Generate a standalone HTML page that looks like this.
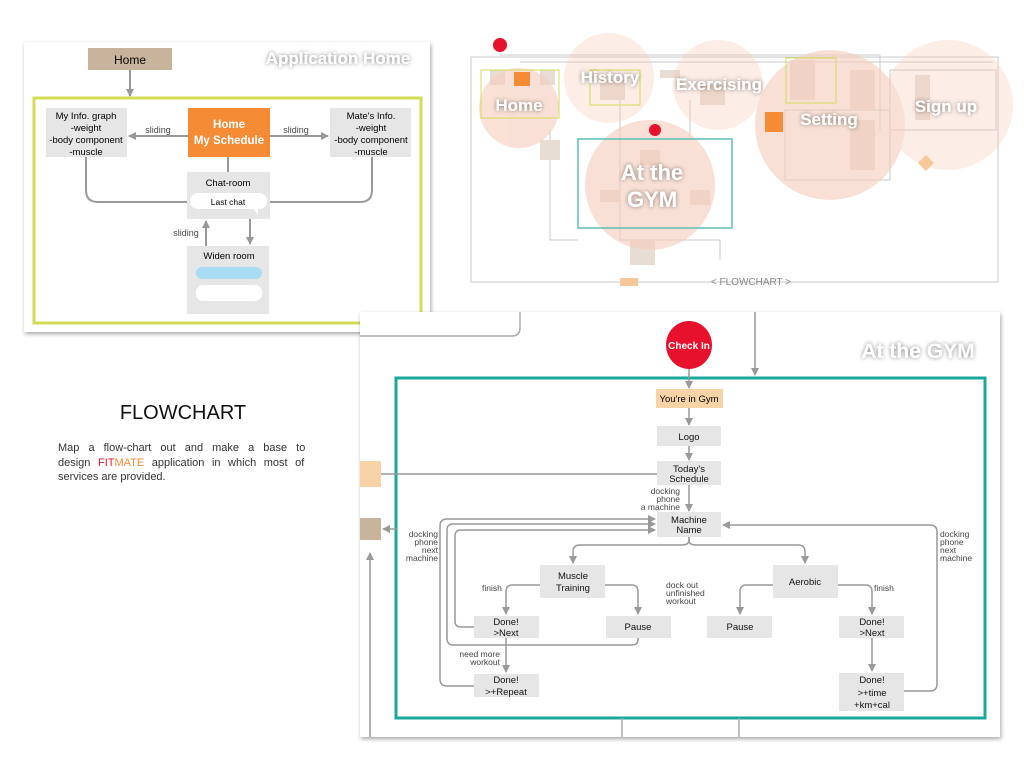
<!DOCTYPE html>
<html><head><meta charset="utf-8"><style>
body{margin:0;width:1024px;height:768px;background:#fff;overflow:hidden;font-family:"Liberation Sans",sans-serif}
</style></head><body>
<svg width="1024" height="768" viewBox="0 0 1024 768" xmlns="http://www.w3.org/2000/svg" font-family="Liberation Sans, sans-serif">
<defs>
<marker id="a" markerWidth="8" markerHeight="8" refX="7" refY="4" orient="auto" markerUnits="userSpaceOnUse"><path d="M0,0 L8,4 L0,8z" fill="#999"/></marker>
<filter id="sh" x="-5%" y="-5%" width="110%" height="110%"><feDropShadow dx="1" dy="2" stdDeviation="2" flood-color="#000" flood-opacity="0.35"/></filter>
<filter id="ts"><feDropShadow dx="0" dy="0" stdDeviation="2" flood-color="#000" flood-opacity="0.5"/></filter>
</defs>

<!-- Top-left panel -->
<rect x="24" y="42" width="406" height="290" fill="#fff" filter="url(#sh)"/>
<text x="338" y="64" font-size="17" font-weight="bold" fill="#fff" text-anchor="middle" filter="url(#ts)">Application Home</text>
<rect x="88" y="48" width="84" height="22" fill="#c8b49c"/>
<text x="130" y="64" font-size="12" text-anchor="middle">Home</text>
<line x1="130" y1="70" x2="130" y2="96" stroke="#999" stroke-width="2" marker-end="url(#a)"/>
<rect x="34" y="98" width="387" height="225" fill="none" stroke="#d4dc54" stroke-width="3"/>
<rect x="46" y="108" width="81" height="49" fill="#e6e6e6"/>
<text font-size="9.5" text-anchor="middle"><tspan x="86" y="119">My Info. graph</tspan><tspan x="86" y="131">-weight</tspan><tspan x="86" y="143">-body component</tspan><tspan x="86" y="155">-muscle</tspan></text>
<rect x="330" y="108" width="81" height="49" fill="#e6e6e6"/>
<text font-size="9.5" text-anchor="middle"><tspan x="371" y="119">Mate's Info.</tspan><tspan x="371" y="131">-weight</tspan><tspan x="371" y="143">-body component</tspan><tspan x="371" y="155">-muscle</tspan></text>
<rect x="188" y="108" width="82" height="49" fill="#f58b35"/>
<text font-size="11.5" font-weight="bold" fill="#fff" text-anchor="middle"><tspan x="229" y="128">Home</tspan><tspan x="229" y="144">My Schedule</tspan></text>
<line x1="188" y1="136" x2="129" y2="136" stroke="#999" stroke-width="2" marker-end="url(#a)"/>
<line x1="270" y1="136" x2="328" y2="136" stroke="#999" stroke-width="2" marker-end="url(#a)"/>
<text x="158" y="133" font-size="9" fill="#444" text-anchor="middle">sliding</text>
<text x="296" y="133" font-size="9" fill="#444" text-anchor="middle">sliding</text>
<line x1="228" y1="157" x2="228" y2="172" stroke="#999" stroke-width="2"/>
<path d="M86,157 V190 Q86,202 98,202 H187 M270,202 H360 Q372,202 372,190 V157" fill="none" stroke="#999" stroke-width="2"/>
<rect x="187" y="172" width="83" height="47" fill="#e6e6e6"/>
<text x="228" y="186" font-size="9.5" text-anchor="middle">Chat-room</text>
<rect x="190" y="193" width="77" height="16" rx="8" fill="#fff"/>
<path d="M252,207 L258,215 L258,207z" fill="#fff"/>
<text x="228" y="205" font-size="8.5" text-anchor="middle">Last chat</text>
<line x1="250" y1="219" x2="250" y2="244" stroke="#999" stroke-width="2" marker-end="url(#a)"/>
<line x1="206" y1="246" x2="206" y2="221" stroke="#999" stroke-width="2" marker-end="url(#a)"/>
<text x="186" y="236" font-size="9" fill="#444" text-anchor="middle">sliding</text>
<rect x="187" y="246" width="82" height="68" fill="#e6e6e6"/>
<text x="229" y="259" font-size="9.5" text-anchor="middle">Widen room</text>
<rect x="196" y="267" width="66" height="12" rx="6" fill="#a9dcf2"/>
<rect x="196" y="285" width="66" height="16" rx="7" fill="#fff"/>

<!-- Top-right overview -->
<g fill="none" stroke="#c8c8c8" stroke-width="1">
<rect x="471" y="57" width="527" height="225"/>
<path d="M500,55 H880 V130 M520,62 H993"/>
<rect x="890" y="70" width="106" height="60"/>
<rect x="785" y="110" width="105" height="70"/>
<path d="M550,130 V240 H578 M690,100 V139 M620,100 V240 H720 V260"/>
</g>
<g fill="#e8ddd4">
<rect x="490" y="70" width="15" height="15"/><rect x="540" y="70" width="15" height="15"/>
<rect x="600" y="80" width="25" height="20"/><rect x="660" y="70" width="20" height="8"/>
<rect x="700" y="85" width="25" height="20"/><rect x="790" y="60" width="25" height="40"/>
<rect x="850" y="70" width="25" height="40"/><rect x="915" y="75" width="15" height="45"/>
<rect x="850" y="120" width="25" height="50"/><rect x="640" y="150" width="20" height="15"/>
<rect x="600" y="190" width="20" height="12"/><rect x="690" y="190" width="20" height="15"/>
<rect x="630" y="240" width="25" height="25"/><rect x="540" y="140" width="20" height="20"/>
</g>
<g fill="#f6cdbb" opacity="0.6">
<circle cx="519" cy="108" r="40"/>
<circle cx="609" cy="78" r="45" opacity="0.6"/>
<circle cx="718" cy="85" r="45" opacity="0.6"/>
<circle cx="830" cy="125" r="75"/>
<circle cx="948" cy="105" r="65" opacity="0.6"/>
<circle cx="650" cy="185" r="65"/>
</g>
<g fill="none" stroke="#d4dc54" stroke-width="1">
<rect x="481" y="70" width="78" height="48"/>
<rect x="590" y="70" width="50" height="35"/>
<rect x="786" y="58" width="50" height="45"/>
</g>
<rect x="578" y="139" width="154" height="89" fill="none" stroke="#5fbfb6" stroke-width="1.5"/>
<rect x="514" y="72" width="16" height="14" fill="#f58b35"/>
<rect x="765" y="112" width="18" height="20" fill="#f58b35"/>
<rect x="620" y="278" width="18" height="8" fill="#f7c99a"/>
<path d="M926,155 L934,163 L926,171 L918,163z" fill="#f7c99a"/>
<circle cx="500" cy="45" r="7" fill="#e8112d"/>
<circle cx="655" cy="130" r="6" fill="#e8112d"/>
<g font-size="17" font-weight="bold" fill="#fff" text-anchor="middle" filter="url(#ts)">
<text x="519" y="111">Home</text>
<text x="610" y="83">History</text>
<text x="719" y="90">Exercising</text>
<text x="829" y="125">Setting</text>
<text x="946" y="112">Sign up</text>
<text x="652" y="180" font-size="22">At the</text>
<text x="652" y="207" font-size="22">GYM</text>
</g>
<text x="751" y="285" font-size="10" fill="#888" text-anchor="middle">&lt; FLOWCHART &gt;</text>

<!-- Left text -->
<text x="183" y="419" font-size="20" text-anchor="middle" fill="#111">FLOWCHART</text>
<text font-size="11" fill="#333"><tspan x="58" y="451" word-spacing="6">Map a flow-chart out and make a base to</tspan><tspan x="58" y="466" word-spacing="4.5">design <tspan fill="#e8112d">FIT</tspan><tspan fill="#f58b35">MATE</tspan> application in which most of</tspan><tspan x="58" y="480">services are provided.</tspan></text>

<!-- Bottom panel -->
<rect x="360" y="312" width="640" height="425" fill="#fff" filter="url(#sh)"/>
<path d="M360,336 H512 Q520,336 520,328 V312" fill="none" stroke="#aaa" stroke-width="1.5"/>
<line x1="755" y1="312" x2="755" y2="375" stroke="#999" stroke-width="1.5" marker-end="url(#a)"/>
<text x="918" y="358" font-size="21" font-weight="bold" fill="#fff" text-anchor="middle" filter="url(#ts)">At the GYM</text>
<ellipse cx="689" cy="345" rx="23" ry="24" fill="#e8112d"/>
<text x="689" y="349" font-size="10" font-weight="bold" fill="#fff" text-anchor="middle">Check In</text>
<rect x="396" y="378" width="589" height="340" fill="none" stroke="#1aa89a" stroke-width="3"/>
<line x1="622" y1="718" x2="622" y2="737" stroke="#aaa" stroke-width="1.5"/>
<line x1="739" y1="718" x2="739" y2="737" stroke="#aaa" stroke-width="1.5"/>
<rect x="360" y="461" width="21" height="26" fill="#f9d3a8"/>
<rect x="360" y="518" width="21" height="22" fill="#c8b49c"/>
<line x1="381" y1="474" x2="657" y2="474" stroke="#999" stroke-width="1.5"/>
<line x1="397" y1="529" x2="383" y2="529" stroke="#999" stroke-width="1.5" marker-end="url(#a)"/>
<line x1="370" y1="737" x2="370" y2="553" stroke="#999" stroke-width="1.5" marker-end="url(#a)"/>

<g stroke="#999" stroke-width="1.5" fill="none">
<line x1="689" y1="369" x2="689" y2="388" marker-end="url(#a)"/>
<line x1="689" y1="408" x2="689" y2="425" marker-end="url(#a)"/>
<line x1="689" y1="446" x2="689" y2="460" marker-end="url(#a)"/>
<line x1="689" y1="485" x2="689" y2="511" marker-end="url(#a)"/>
<path d="M689,537 V540 Q689,545 682,545 H580 Q573,545 573,552 V563" marker-end="url(#a)"/>
<path d="M689,537 V540 Q689,545 696,545 H798 Q805,545 805,552 V563" marker-end="url(#a)"/>
<path d="M540,585 H512 Q506,585 506,592 V614" marker-end="url(#a)"/>
<path d="M605,585 H632 Q638,585 638,592 V614" marker-end="url(#a)"/>
<path d="M773,585 H746 Q740,585 740,592 V614" marker-end="url(#a)"/>
<path d="M838,585 H866 Q872,585 872,592 V614" marker-end="url(#a)"/>
<line x1="506" y1="638" x2="506" y2="672" marker-end="url(#a)"/>
<line x1="872" y1="638" x2="872" y2="671" marker-end="url(#a)"/>
<path d="M474,686 H447 Q440,686 440,679 V526 Q440,519 447,519 H655" marker-end="url(#a)"/>
<path d="M638,638 V640 Q638,645 631,645 H453 Q447,645 447,638 V530 Q447,524 453,524 H655" marker-end="url(#a)"/>
<path d="M474,627 H461 Q455,627 455,621 V536 Q455,530 461,530 H655" marker-end="url(#a)"/>
<path d="M904,691 H930 Q937,691 937,684 V532 Q937,525 930,525 H723" marker-end="url(#a)"/>
</g>

<rect x="656" y="389" width="67" height="19" fill="#f9d3a8"/>
<text x="689" y="402" font-size="9.5" text-anchor="middle">You're in Gym</text>
<g fill="#e6e6e6">
<rect x="657" y="426" width="64" height="20"/>
<rect x="657" y="461" width="64" height="24"/>
<rect x="657" y="512" width="64" height="25"/>
<rect x="540" y="565" width="65" height="33"/>
<rect x="773" y="565" width="65" height="33"/>
<rect x="474" y="616" width="65" height="22"/>
<rect x="606" y="616" width="65" height="22"/>
<rect x="707" y="616" width="65" height="22"/>
<rect x="839" y="616" width="65" height="22"/>
<rect x="474" y="674" width="65" height="23"/>
<rect x="839" y="673" width="65" height="38"/>
</g>
<g font-size="9.5" text-anchor="middle" fill="#111">
<text x="689" y="440">Logo</text>
<text x="689" y="472">Today's</text><text x="689" y="482">Schedule</text>
<text x="689" y="523">Machine</text><text x="689" y="533">Name</text>
<text x="573" y="579">Muscle</text><text x="573" y="591">Training</text>
<text x="805" y="585">Aerobic</text>
<text x="506" y="625">Done!</text><text x="506" y="636">&gt;Next</text>
<text x="638" y="630">Pause</text>
<text x="740" y="630">Pause</text>
<text x="872" y="625">Done!</text><text x="872" y="636">&gt;Next</text>
<text x="506" y="683">Done!</text><text x="506" y="695">&gt;+Repeat</text>
<text x="872" y="683">Done!</text><text x="872" y="696">&gt;+time</text><text x="872" y="708">+km+cal</text>
</g>
<g font-size="8.5" fill="#444">
<text text-anchor="end"><tspan x="680" y="494">docking</tspan><tspan x="680" y="502">phone</tspan><tspan x="680" y="510">a machine</tspan></text>
<text text-anchor="end"><tspan x="438" y="537">docking</tspan><tspan x="438" y="545">phone</tspan><tspan x="438" y="553">next</tspan><tspan x="438" y="561">machine</tspan></text>
<text><tspan x="940" y="537">docking</tspan><tspan x="940" y="545">phone</tspan><tspan x="940" y="553">next</tspan><tspan x="940" y="561">machine</tspan></text>
<text x="482" y="591">finish</text>
<text x="874" y="591">finish</text>
<text><tspan x="666" y="588">dock out</tspan><tspan x="666" y="596">unfinished</tspan><tspan x="666" y="604">workout</tspan></text>
<text text-anchor="end"><tspan x="500" y="657">need more</tspan><tspan x="500" y="665">workout</tspan></text>
</g>
</svg>
</body></html>
